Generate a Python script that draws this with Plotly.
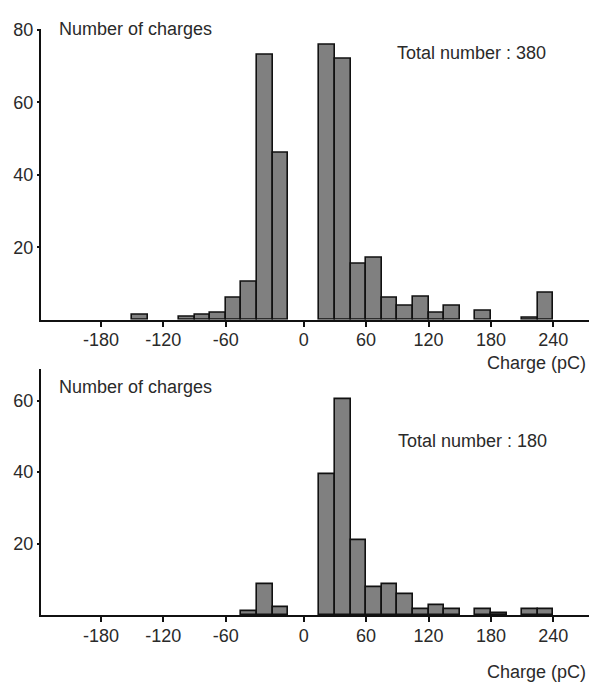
import plotly.graph_objects as go

# ---- data ----
bin_width = 15
top_left_edges = [-165, -120, -105, -90, -75, -60, -45, -30,
                  15, 30, 45, 60, 75, 90, 105, 120, 135, 165, 210, 225]
top_counts = [1.4, 0.8, 1.5, 2, 6, 10.5, 73, 46,
              76, 72, 15.5, 17, 6, 4, 6.5, 2, 4, 2.5, 0.5, 7.5]

bot_left_edges = [-60, -45, -30,
                  15, 30, 45, 60, 75, 90, 105, 120, 135, 165, 180, 210, 225]
bot_counts = [1.2, 8.7, 2.3,
              39.3, 60.5, 21, 7.8, 8.8, 5.8, 1.8, 2.8, 1.8, 1.8, 0.5, 1.8, 1.8]

tick_vals = [-195, -135, -75, 0, 60, 120, 180, 240]
tick_text = ["-180", "-120", "-60", "0", "60", "120", "180", "240"]
top_y_ticks = [20, 40, 60, 80]
bot_y_ticks = [20, 40, 60]
totals = [380, 180]

W, H = 589, 684
FONT = "Liberation Sans Narrow, Arial Narrow, Liberation Sans, sans-serif"
TXT = "#2a2a2a"
FS = 18

fig = go.Figure()
for edges, counts, xa, ya in [(top_left_edges, top_counts, "x", "y"),
                               (bot_left_edges, bot_counts, "x2", "y2")]:
    fig.add_trace(go.Bar(
        x=[e + bin_width / 2 for e in edges], y=counts, width=bin_width,
        marker=dict(color="#808080", line=dict(color="#111111", width=1.6)),
        xaxis=xa, yaxis=ya, showlegend=False, hoverinfo="x+y"))

def px_x(p):
    return p / W

def px_y(p):
    return 1 - p / H

xrange = [(41 - 303.7) / 1.04, (589 - 303.7) / 1.04]
xcommon = dict(range=xrange, domain=[px_x(41), 1.0], showline=True, linecolor="#111111",
               linewidth=2, ticks="outside", ticklen=5, tickwidth=1.5, tickcolor="#111111",
               tickvals=tick_vals, ticktext=tick_text, showgrid=False, zeroline=False,
               ticklabelstandoff=-2,
               tickfont=dict(family=FONT, size=FS, color=TXT))
ycommon = dict(showline=True, linecolor="#111111", linewidth=2, ticks="outside",
               ticklen=2, tickwidth=1.5, tickcolor="#111111", showgrid=False,
               zeroline=False, tickfont=dict(family=FONT, size=FS, color=TXT))

fig.update_layout(
    width=W, height=H, margin=dict(l=0, r=0, t=0, b=0),
    paper_bgcolor="white", plot_bgcolor="white", bargap=0,
    xaxis=dict(anchor="y", **xcommon),
    yaxis=dict(anchor="x", domain=[px_y(315), px_y(20)], range=[0, 80.3],
               tickvals=top_y_ticks, **ycommon),
    xaxis2=dict(anchor="y2", **xcommon),
    yaxis2=dict(anchor="x2", domain=[px_y(614.3), px_y(365)], range=[0, 68.8],
                tickvals=bot_y_ticks, **ycommon),
)

ann_font = dict(family=FONT, size=FS, color=TXT)
anns = [
    ("Number of charges", 57, 20, "left"),
    (f"Total number : {totals[0]}", 395, 45, "left"),
    ("Charge (pC)", 588, 359, "right"),
    ("Number of charges", 57, 383, "left"),
    (f"Total number : {totals[1]}", 396, 438, "left"),
    ("Charge (pC)", 588, 672, "right"),
]
for text, x, y, anchor in anns:
    fig.add_annotation(text=text, x=px_x(x), y=px_y(y), xref="paper", yref="paper",
                       xanchor=anchor, yanchor="middle", showarrow=False, font=ann_font)

fig.write_html("out.html")
